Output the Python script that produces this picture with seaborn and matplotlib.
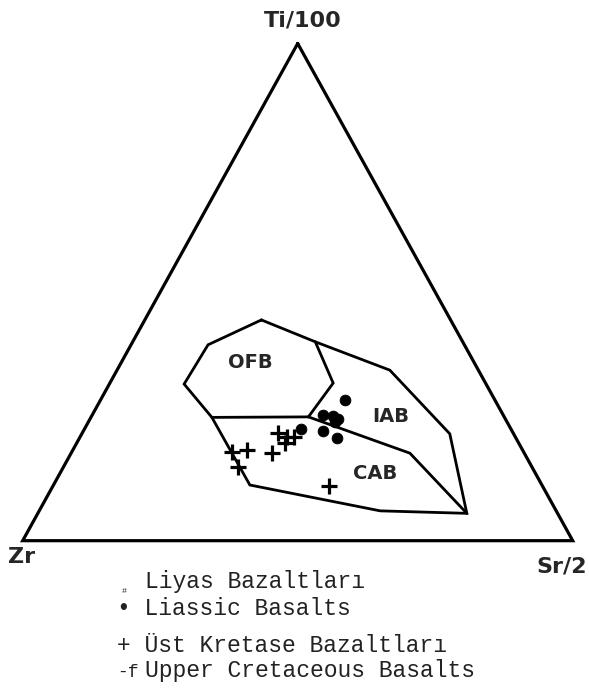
import numpy as np
import pandas as pd
import matplotlib
matplotlib.use("Agg")
import matplotlib.pyplot as plt
import seaborn as sns

# Üçgen köşeleri (Ti/100, Zr, Sr/2) yüzde
corner_labels = ["Ti/100", "Zr", "Sr/2"]

# Alan sınırları (Ti, Zr, Sr)
outer_ti = [44.4, 39.4, 31.5, 24.8, 11.2, 6.0, 5.5, 21.5, 34.3, 40.0, 44.4]
outer_zr = [34.4, 46.6, 54.9, 53.2, 53.1, 32.0, 16.5, 11.6, 16.1, 26.8, 34.4]
outer_sr = [21.2, 14.0, 13.6, 22.0, 35.7, 62.0, 78.0, 66.9, 49.6, 33.2, 21.2]

# OFB iç sınırı
ofb_ti = [40.0, 31.7, 24.9]
ofb_zr = [26.8, 27.7, 35.6]
ofb_sr = [33.2, 40.6, 39.5]

# OFB alt çizgisi
base_ti = [24.8, 24.9]
base_zr = [53.2, 35.6]
base_sr = [22.0, 39.5]

# IAB / CAB sınırı
iab_ti = [24.9, 17.6, 5.5]
iab_zr = [35.6, 20.8, 16.5]
iab_sr = [39.5, 61.6, 78.0]

# Liyas bazaltları (nokta)
lias_ti = [28.3, 25.3, 25.1, 24.4, 23.9, 22.1, 20.6, 22.5]
lias_zr = [27.2, 32.8, 31.0, 30.4, 31.3, 34.4, 32.6, 38.2]
lias_sr = [44.5, 41.9, 43.9, 45.2, 44.8, 43.5, 46.8, 39.3]

# Üst Kretase bazaltları (artı)
kret_ti = [21.6, 20.9, 20.9, 19.7, 18.2, 17.9, 17.7, 14.9, 11.0]
kret_zr = [42.7, 41.5, 40.3, 42.5, 50.2, 53.0, 45.9, 53.4, 38.8]
kret_sr = [35.7, 37.6, 38.8, 37.8, 31.6, 29.1, 36.4, 31.7, 50.2]

# Alan etiketleri
field_names = ["OFB", "IAB", "CAB"]
field_ti = [35.9, 24.9, 13.6]
field_zr = [40.7, 20.6, 29.1]
field_sr = [23.4, 54.5, 57.2]


def tern(ti, zr, sr):
    ti, zr, sr = np.asarray(ti, float), np.asarray(zr, float), np.asarray(sr, float)
    tot = ti + zr + sr
    x = (sr + ti / 2) / tot
    y = ti / tot
    return x, y


sns.set_style("white")
fig = plt.figure(figsize=(5.89, 6.88), dpi=100)
ax = fig.add_axes([0, 0, 1, 1])
ax.set_xlim(-0.04127, 1.02964)
ax.set_ylim(-0.2963, 1.0875)
ax.axis("off")

# Üçgen
tx, ty = tern([100, 0, 0, 100], [0, 100, 0, 0], [0, 0, 100, 0])
ax.plot(tx, ty, color="black", lw=2.3, solid_joinstyle="miter")

# Alan sınırları
for t, z, s in [(outer_ti, outer_zr, outer_sr), (ofb_ti, ofb_zr, ofb_sr),
                (base_ti, base_zr, base_sr), (iab_ti, iab_zr, iab_sr)]:
    px, py = tern(t, z, s)
    ax.plot(px, py, color="black", lw=2.0, solid_joinstyle="miter")

# Veri noktaları
lx, ly = tern(lias_ti, lias_zr, lias_sr)
kx, ky = tern(kret_ti, kret_zr, kret_sr)
df = pd.DataFrame({
    "x": np.concatenate([lx, kx]),
    "y": np.concatenate([ly, ky]),
    "grup": ["Liyas"] * len(lx) + ["Kretase"] * len(kx),
})
sns.scatterplot(data=df[df.grup == "Liyas"], x="x", y="y", ax=ax, marker="o",
                s=60, color="black", edgecolor="black", legend=False)
sns.scatterplot(data=df[df.grup == "Kretase"], x="x", y="y", ax=ax, marker="+",
                s=130, color="black", linewidth=2.3, legend=False)

# Alan etiketleri
fx, fy = tern(field_ti, field_zr, field_sr)
for name, xx, yy in zip(field_names, fx, fy):
    ax.text(xx, yy, name, fontsize=14, fontweight="bold", ha="center", va="center",
            family="DejaVu Sans")

# Köşe etiketleri
W, H = 589, 688
fig.text(303 / W, 1 - 20 / H, corner_labels[0], fontsize=16, fontweight="bold", ha="center", va="center")
fig.text(22 / W, 1 - 557 / H, corner_labels[1], fontsize=16, fontweight="bold", ha="center", va="center")
fig.text(562 / W, 1 - 566 / H, corner_labels[2], fontsize=16, fontweight="bold", ha="center", va="center")

# Açıklama
mono = "Liberation Mono"
col = "#222222"
fig.text(124 / W, 1 - 593 / H, "#", fontsize=6, ha="center", va="baseline", family=mono, color=col)
fig.text(145 / W, 1 - 588 / H, "Liyas Bazaltları", fontsize=16.6, va="baseline", family=mono, color=col)
fig.text(117 / W, 1 - 615 / H, "• Liassic Basalts", fontsize=16.6, va="baseline", family=mono, color=col)
fig.text(117 / W, 1 - 652 / H, "+ Üst Kretase Bazaltları", fontsize=16.6, va="baseline", family=mono, color=col)
fig.text(117 / W, 1 - 677 / H, "-f", fontsize=13, va="baseline", family=mono, color=col)
fig.text(145 / W, 1 - 677 / H, "Upper Cretaceous Basalts", fontsize=16.6, va="baseline", family=mono, color=col)

fig.savefig("out.png", dpi=100)
